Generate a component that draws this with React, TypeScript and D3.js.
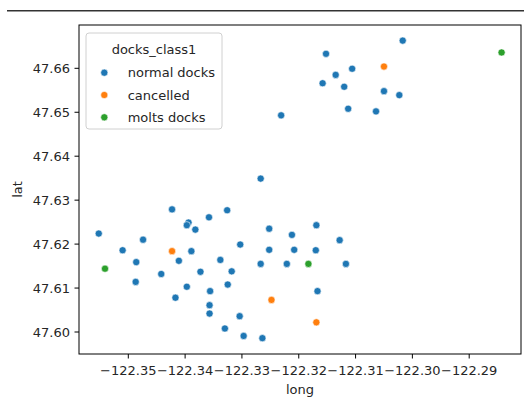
import React from "react";
import * as d3 from "d3";

const categories = ["normal docks", "cancelled", "molts docks"];
const colors = ["#1f77b4", "#ff7f0e", "#2ca02c"];

const longs = [
  -122.3017, -122.3152, -122.2843, -122.3050, -122.3106, -122.3135, -122.3158, -122.3120,
  -122.3050, -122.3023, -122.3113, -122.3064, -122.3231, -122.3267, -122.3423, -122.3326,
  -122.3358, -122.3394, -122.3397, -122.3169, -122.3552, -122.3252, -122.3382, -122.3212,
  -122.3474, -122.3128, -122.3303, -122.3510, -122.3423, -122.3389, -122.3252, -122.3208,
  -122.3170, -122.3486, -122.3411, -122.3338, -122.3267, -122.3221, -122.3183, -122.3117,
  -122.3541, -122.3442, -122.3373, -122.3318, -122.3397, -122.3325, -122.3487, -122.3356,
  -122.3167, -122.3417, -122.3248, -122.3357, -122.3357, -122.3304, -122.3169, -122.3330,
  -122.3297, -122.3264,
];
const lats = [
  47.6663, 47.6633, 47.6636, 47.6604, 47.6599, 47.6585, 47.6566, 47.6558,
  47.6548, 47.6539, 47.6508, 47.6502, 47.6493, 47.6349, 47.6279, 47.6277,
  47.6261, 47.6249, 47.6243, 47.6243, 47.6224, 47.6235, 47.6233, 47.6221,
  47.6210, 47.6209, 47.6199, 47.6186, 47.6184, 47.6184, 47.6187, 47.6187,
  47.6186, 47.6159, 47.6162, 47.6164, 47.6155, 47.6155, 47.6155, 47.6155,
  47.6144, 47.6132, 47.6137, 47.6138, 47.6103, 47.6108, 47.6114, 47.6093,
  47.6093, 47.6078, 47.6073, 47.6061, 47.6042, 47.6036, 47.6022, 47.6008,
  47.5991, 47.5986,
];
const classes = [
  0, 0, 2, 1, 0, 0, 0, 0,
  0, 0, 0, 0, 0, 0, 0, 0,
  0, 0, 0, 0, 0, 0, 0, 0,
  0, 0, 0, 0, 1, 0, 0, 0,
  0, 0, 0, 0, 0, 0, 2, 0,
  2, 0, 0, 0, 0, 0, 0, 0,
  0, 0, 1, 0, 0, 0, 1, 0,
  0, 0,
];
const xTicks = [-122.35, -122.34, -122.33, -122.32, -122.31, -122.3, -122.29];
const yTicks = [47.6, 47.61, 47.62, 47.63, 47.64, 47.65, 47.66];

const W = 524;
const H = 401;
const frame = { left: 79, right: 521, top: 25, bottom: 354 };
const FONT = "'DejaVu Sans', sans-serif";
const FS = 13;

export default function App() {
  const x = d3.scaleLinear().domain([-122.35, -122.29]).range([128.3, 469.2]);
  const y = d3.scaleLinear().domain([47.6, 47.66]).range([332, 68.3]);
  const fmtX = (v: number) => d3.format(".2f")(v).replace("-", "\u2212");
  const fmtY = d3.format(".2f");
  const tick = 4.5;

  const lg = { x: 86, y: 33, w: 136, h: 96 };

  return (
    <svg width={W} height={H} style={{ position: "absolute", left: 0, top: 0 }} fontFamily={FONT}>
      <rect x={0} y={0} width={W} height={H} fill="#fff" />
      <line x1={7} x2={W} y1={10.7} y2={10.7} stroke="#333" strokeWidth={1.5} />

      {/* points */}
      {longs.map((lo, i) => (
        <circle
          key={i}
          cx={x(lo)}
          cy={y(lats[i])}
          r={3.6}
          fill={colors[classes[i]]}
          stroke="#fff"
          strokeWidth={0.6}
        />
      ))}

      {/* frame */}
      <rect
        x={frame.left}
        y={frame.top}
        width={frame.right - frame.left}
        height={frame.bottom - frame.top}
        fill="none"
        stroke="#000"
        strokeWidth={1}
      />

      {/* x ticks */}
      {xTicks.map((t) => (
        <g key={t}>
          <line x1={x(t)} x2={x(t)} y1={frame.bottom} y2={frame.bottom + tick} stroke="#000" strokeWidth={1} />
          <text x={x(t)} y={frame.bottom + tick + 4.5 + 12} textAnchor="middle" fontSize={FS} fill="#262626">
            {fmtX(t)}
          </text>
        </g>
      ))}
      {/* y ticks */}
      {yTicks.map((t) => (
        <g key={t}>
          <line x1={frame.left - tick} x2={frame.left} y1={y(t)} y2={y(t)} stroke="#000" strokeWidth={1} />
          <text x={frame.left - tick - 4.5} y={y(t)} dy="0.35em" textAnchor="end" fontSize={FS} fill="#262626">
            {fmtY(t)}
          </text>
        </g>
      ))}

      <text x={(frame.left + frame.right) / 2} y={394} textAnchor="middle" fontSize={FS} fill="#262626">
        long
      </text>
      <text
        transform={`translate(21.5, ${(frame.top + frame.bottom) / 2}) rotate(-90)`}
        textAnchor="middle"
        fontSize={FS}
        fill="#262626"
      >
        lat
      </text>

      {/* legend */}
      <rect x={lg.x} y={lg.y} width={lg.w} height={lg.h} rx={3} fill="#fff" fillOpacity={0.8} stroke="#d0d0d0" strokeWidth={1} />
      <text x={lg.x + lg.w / 2} y={54} textAnchor="middle" fontSize={FS} fill="#262626">
        docks_class1
      </text>
      {categories.map((c, i) => (
        <g key={c}>
          <circle cx={104.3} cy={72.7 + i * 22.3} r={3.6} fill={colors[i]} stroke="#fff" strokeWidth={0.6} />
          <text x={127.7} y={72.7 + i * 22.3} dy="0.35em" fontSize={FS} fill="#262626">
            {c}
          </text>
        </g>
      ))}
    </svg>
  );
}
